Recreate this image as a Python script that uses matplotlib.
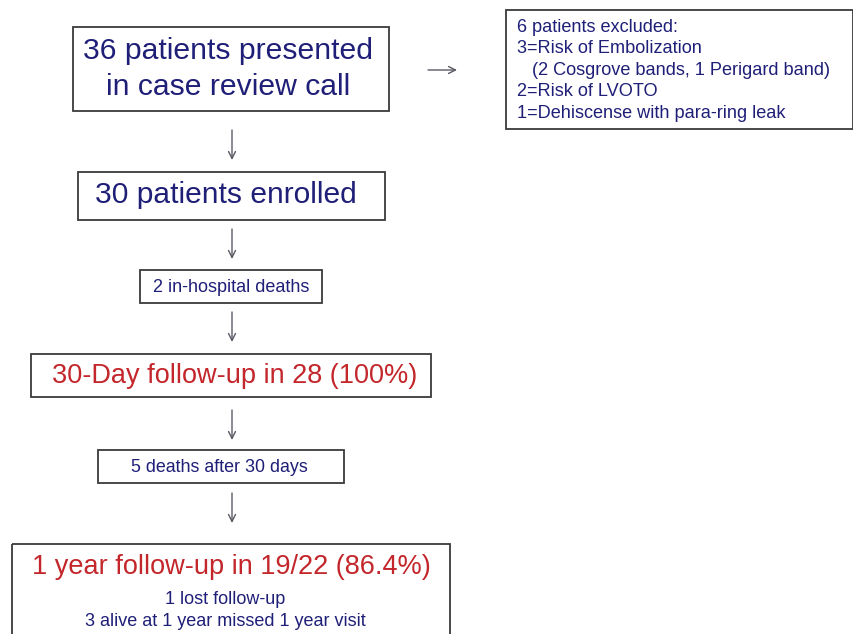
import matplotlib.pyplot as plt
from matplotlib.patches import Rectangle

# ===== CONTENT =====
MAIN_BOX_TEXTS = [
    "36 patients presented\nin case review call",
    "30 patients enrolled",
    "2 in-hospital deaths",
    "30-Day follow-up in 28 (100%)",
    "5 deaths after 30 days",
    "1 year follow-up in 19/22 (86.4%)",
]
SUBTEXT_LINES = ["1 lost follow-up", "3 alive at 1 year missed 1 year visit"]
EXCLUDED_LINES = [
    "6 patients excluded:",
    "3=Risk of Embolization",
    "   (2 Cosgrove bands, 1 Perigard band)",
    "2=Risk of LVOTO",
    "1=Dehiscense with para-ring leak",
]

# ===== LAYOUT (pixel space, y downwards) =====
# (left, top, right, bottom)
MAIN_BOXES = [
    (73, 27, 389, 111),
    (78, 172, 385, 220),
    (140, 270, 322, 303),
    (31, 354, 431, 397),
    (98, 450, 344, 483),
    (12, 544, 450, 660),
]
MAIN_TEXT_X = [228, 226, 231, 234.5, 219, 231]
MAIN_TEXT_Y = [69, 195, 287, 376, 467, 567]
MAIN_FONT_SIZES = [21.7, 21.6, 13, 19.5, 12.9, 19.55]
MAIN_COLORS = ["navy", "navy", "navy", "red", "navy", "red"]
SUBTEXT_Y = [600, 622]
DOWN_ARROWS = [(130, 160), (229, 259), (312, 342), (410, 440), (493, 523)]
ARROW_X = 232
EXCLUDED_BOX = (506, 10, 853, 129)
EXCLUDED_FIRST_Y = 27
EXCLUDED_STEP = 21.6
RIGHT_ARROW = (428, 457, 70)

NAVY = "#1f1f78"
RED = "#c3262b"
EDGE = "#3a3a3a"
ARROW_COLOR = "#5a5a66"
FONT = ["Liberation Sans", "DejaVu Sans"]
# =========================


def draw_box(ax, box, lw=1.3):
    left, top, right, bottom = box
    ax.add_patch(Rectangle((left, top), right - left, bottom - top,
                           fill=False, edgecolor=EDGE, linewidth=lw, clip_on=True))


def draw_arrow(ax, start, end):
    ax.annotate("", xy=end, xytext=start,
                arrowprops=dict(arrowstyle="->,head_length=0.5,head_width=0.25",
                                color=ARROW_COLOR, lw=1.0, shrinkA=0, shrinkB=0))


def main() -> None:
    fig = plt.figure(figsize=(8.54, 6.34), dpi=100)
    ax = fig.add_axes([0, 0, 1, 1])
    ax.set_xlim(0, 854)
    ax.set_ylim(634, 0)
    ax.axis("off")

    colors = {"navy": NAVY, "red": RED}
    for i, box in enumerate(MAIN_BOXES):
        draw_box(ax, box)
        ax.text(MAIN_TEXT_X[i], MAIN_TEXT_Y[i], MAIN_BOX_TEXTS[i], ha="center", va="center",
                fontsize=MAIN_FONT_SIZES[i], color=colors[MAIN_COLORS[i]],
                family=FONT, linespacing=1.38)

    for line, y in zip(SUBTEXT_LINES, SUBTEXT_Y):
        ax.text(225, y, line, ha="center", va="center", fontsize=13,
                color=NAVY, family=FONT)

    for top, bottom in DOWN_ARROWS:
        draw_arrow(ax, (ARROW_X, top), (ARROW_X, bottom))
    draw_arrow(ax, (RIGHT_ARROW[0], RIGHT_ARROW[2]), (RIGHT_ARROW[1], RIGHT_ARROW[2]))

    draw_box(ax, EXCLUDED_BOX)
    for j, line in enumerate(EXCLUDED_LINES):
        ax.text(EXCLUDED_BOX[0] + 11, EXCLUDED_FIRST_Y + j * EXCLUDED_STEP, line,
                ha="left", va="center", fontsize=13.1, color=NAVY, family=FONT)

    fig.savefig("out.png", dpi=100, facecolor="white")


if __name__ == "__main__":
    main()
